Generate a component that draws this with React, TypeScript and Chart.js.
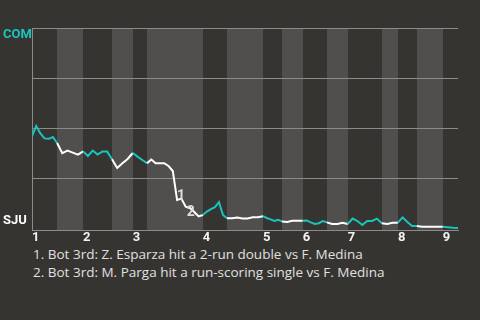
import { useEffect, useRef } from 'react';
import { Chart, registerables } from 'chart.js';

Chart.register(...registerables);

// ---- data ----
const inningLabels = ['1', '2', '3', '4', '5', '6', '7', '8', '9'];
const teamTop = 'COM';
const teamBottom = 'SJU';
// length of each half inning (game-progress units), top 1st .. top 9th
const halfInningLength = [5.3, 5.5, 6.1, 4.4, 3.0, 11.8, 5.1, 7.6, 4.0, 4.4, 5.1, 4.4, 7.2, 3.4, 4.0, 5.5, 3.2];
// COM win probability (%) before the first pitch
const startWinProb = 46;
// COM win probability (%) after each play, per half inning
const top1 = [51, 47.3, 44.8, 44.6, 45.5, 42.5];
const bot1 = [37.4, 38.7, 37.7, 36.7, 38.3];
const top2 = [36, 38.7, 36.7, 38.2, 38.2, 34.4];
const bot2 = [30, 32.4, 34.5, 37.5];
const top3 = [35.7, 34, 32.4];
const bot3 = [34.2, 32.4, 32.4, 32.4, 31, 28.5, 14, 14.7, 10.7, 10, 8, 5.8, 6.5];
const top4 = [8.2, 9.4, 10.4, 12.9, 6.5, 4.9];
const bot4 = [4.9, 5.2, 4.8, 4.8, 5.4, 5.4, 5.9];
const top5 = [5, 4.3, 3.5, 4.1, 3.3];
const bot5 = [3, 3.6, 3.6, 3.6];
const top6 = [3.8, 2.8, 2, 2.4, 3.5, 2.8];
const bot6 = [2, 2, 2.65, 2];
const top7 = [4.7, 3.5, 1.5, 3.5, 3.5, 4.7, 2.35];
const bot7 = [2, 2.65, 2.65];
const top8 = [5.3, 3, 1, 1];
const bot8 = [0.65, 0.65, 0.65, 0.65, 0.65];
const top9 = [0.4, 0.1, 0];
const halfInningPlays = [top1, bot1, top2, bot2, top3, bot3, top4, bot4, top5, bot5, top6, bot6, top7, bot7, top8, bot8, top9];
// key plays: half inning index, play index within it, marker
const keyPlayHalf = [5, 5];
const keyPlayIndex = [6, 8];
const keyPlayMarker = ['1', '2'];
const footnotes = [
  '1. Bot 3rd: Z. Esparza hit a 2-run double vs F. Medina',
  '2. Bot 3rd: M. Parga hit a run-scoring single vs F. Medina',
];
const gridValues = [25, 50, 75, 100];

// ---- derived ----
const halfStarts: number[] = [];
let acc = 0;
for (const len of halfInningLength) {
  halfStarts.push(acc);
  acc += len;
}
const gameEnd = acc;
const points: { x: number; y: number }[] = [{ x: 0, y: startWinProb }];
const halfFirstPoint: number[] = [];
halfInningPlays.forEach((plays, h) => {
  halfFirstPoint.push(points.length);
  const step = halfInningLength[h] / plays.length;
  plays.forEach((v, i) => points.push({ x: halfStarts[h] + step * (i + 1), y: v }));
});
const inningStarts = halfStarts.filter((_, h) => h % 2 === 0);

const BG = '#363430';
const BAND = '#504f4d';
const GRID = '#8b8b89';
const CYAN = '#18c4be';
const WHITE = '#ffffff';
const FONT = 'Roboto, "Noto Sans", sans-serif';
const NOTE_FONT = '"Open Sans", Roboto, sans-serif';

function halfOf(x: number) {
  let h = 0;
  for (let i = 0; i < halfStarts.length; i++) if (halfStarts[i] <= x + 1e-6) h = i;
  return h;
}

const decorPlugin = {
  id: 'decor',
  beforeDraw(chart: any) {
    const { ctx, chartArea: a, scales } = chart;
    const xs = scales.x;
    ctx.save();
    ctx.fillStyle = BG;
    ctx.fillRect(0, 0, chart.width, chart.height);
    halfStarts.forEach((s, h) => {
      if (h % 2 === 1) {
        const x0 = Math.round(xs.getPixelForValue(s));
        const x1 = Math.round(xs.getPixelForValue(s + halfInningLength[h]));
        ctx.fillStyle = BAND;
        ctx.fillRect(x0, a.top, x1 - x0, a.bottom - a.top);
      }
    });
    ctx.font = `bold 13px ${FONT}`;
    ctx.textAlign = 'left';
    ctx.textBaseline = 'middle';
    ctx.fillStyle = CYAN;
    ctx.fillText(teamTop, 3, a.top + 7);
    ctx.fillStyle = WHITE;
    ctx.fillText(teamBottom, 3, a.bottom - 9);
    ctx.restore();
  },
  afterDatasetsDraw(chart: any) {
    const { ctx, scales } = chart;
    ctx.save();
    ctx.font = `bold 14px ${FONT}`;
    ctx.fillStyle = '#dcdcdc';
    ctx.textAlign = 'left';
    keyPlayMarker.forEach((m, i) => {
      const p = points[halfFirstPoint[keyPlayHalf[i]] + keyPlayIndex[i]];
      const px = scales.x.getPixelForValue(p.x);
      const py = scales.y.getPixelForValue(p.y);
      if (i === 0) {
        ctx.textBaseline = 'alphabetic';
        ctx.fillText(m, px, py);
      } else {
        ctx.textBaseline = 'top';
        ctx.fillText(m, px + 1, py - 1);
      }
    });
    ctx.restore();
  },
};

export default function App() {
  const ref = useRef<HTMLCanvasElement>(null);
  useEffect(() => {
    if (!ref.current) return;
    const chart = new Chart(ref.current, {
      type: 'line',
      data: {
        datasets: [
          {
            data: points,
            borderColor: WHITE,
            borderWidth: 2,
            pointRadius: 0,
            tension: 0,
            fill: false,
            segment: {
              borderColor: (c: any) => (halfOf(c.p0.parsed.x) % 2 === 0 ? CYAN : WHITE),
            },
          },
        ],
      },
      options: {
        responsive: false,
        animation: false,
        layout: { padding: { left: 0, right: 22, top: 28, bottom: 0 } },
        plugins: { legend: { display: false }, tooltip: { enabled: false } },
        scales: {
          x: {
            type: 'linear',
            min: 0,
            max: gameEnd,
            grid: { display: false, drawTicks: false },
            border: { display: true, color: GRID, width: 1 },
            afterBuildTicks: (s: any) => {
              s.ticks = inningStarts.map((v) => ({ value: v }));
            },
            afterFit: (s: any) => {
              s.height = 15;
            },
            ticks: {
              align: 'start',
              padding: 0,
              maxRotation: 0,
              autoSkip: false,
              color: '#f2f2f2',
              font: { family: FONT, size: 13, weight: 'bold' },
              callback: (v: any) => {
                const i = inningStarts.findIndex((s) => Math.abs(s - v) < 1e-6);
                return i >= 0 ? inningLabels[i] : '';
              },
            },
          },
          y: {
            type: 'linear',
            min: -1,
            max: 100,
            grid: { color: GRID, lineWidth: 1, drawTicks: false },
            border: { display: true, color: GRID, width: 1 },
            afterBuildTicks: (s: any) => {
              s.ticks = gridValues.map((v) => ({ value: v }));
            },
            afterFit: (s: any) => {
              s.width = 32;
            },
            ticks: { display: false },
          },
        },
      },
      plugins: [decorPlugin],
    } as any);
    return () => chart.destroy();
  }, []);

  return (
    <div style={{ position: 'fixed', left: 0, top: 0, width: 480, height: 320, background: BG, overflow: 'hidden' }}>
      <canvas ref={ref} width={480} height={245} style={{ position: 'absolute', left: 0, top: 0, width: 480, height: 245 }} />
      <div
        style={{
          position: 'absolute',
          left: 33,
          top: 245,
          fontFamily: NOTE_FONT,
          fontSize: 13.5,
          lineHeight: '18px',
          color: '#e0e0e0',
          whiteSpace: 'nowrap',
        }}
      >
        {footnotes.map((f) => (
          <div key={f}>{f}</div>
        ))}
      </div>
    </div>
  );
}
